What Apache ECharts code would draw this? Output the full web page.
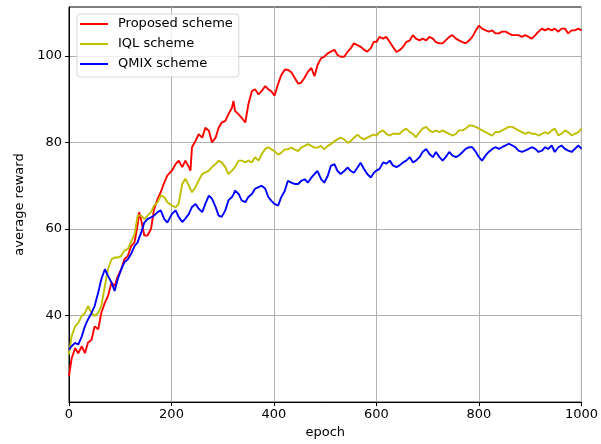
<!DOCTYPE html>
<html>
<head>
<meta charset="utf-8">
<script src="https://cdn.jsdelivr.net/npm/echarts@6/dist/echarts.min.js"></script>
<style>html,body{margin:0;padding:0;background:#fff}#c{width:601px;height:444px}</style>
</head>
<body>
<div id="c"></div>
<script>
const seriesNames = ['Proposed scheme', 'IQL scheme', 'QMIX scheme'];
const xTicks = [0, 200, 400, 600, 800, 1000];
const yTicks = [40, 60, 80, 100];
const epochs = [
  0,5,12,18,25,31,37,44,50,57,63,70,76,83,89,95,102,108,115,121,128,134,137,141,147,153,160,166,173,179,186,192,
  201,208,214,221,227,234,237,240,247,253,260,266,273,279,286,292,298,305,311,318,321,324,331,337,344,350,357,363,370,376,383,389,395,
  401,408,414,421,427,434,440,447,453,460,466,473,479,485,492,498,505,511,518,524,530,537,544,550,556,563,569,576,582,589,595,
  600,606,613,619,626,632,639,645,652,658,665,671,677,684,690,697,703,710,716,723,729,735,742,748,755,761,768,774,781,787,794,
  800,806,813,819,826,832,839,845,852,858,865,871,877,884,890,897,903,910,916,923,929,935,942,948,955,961,968,974,981,987,994,1000
];
const proposed = [
  26,30,32.5,31.3,32.9,31.3,33.7,34.4,37.5,36.8,40.6,43,44.5,47.6,46.8,49,50.7,53,53.8,56,57,61,63.9,62,58.5,58.5,60,64.6,67,68.5,70.8,72.4,
  73.5,75,75.8,74.3,75.8,74.3,73.5,78.9,80.4,81.9,81.1,83.4,82.7,80,81.1,83.4,84.6,85,86.5,88,89.6,87.3,86.5,85.7,84.6,88.8,91.9,92.3,91.1,91.9,93,92.3,91.8,
  90.8,93.5,95.5,96.8,96.8,96.2,95,93.6,93.8,95,96.3,97.2,95.3,97.9,99.5,99.8,100.6,101,101.4,100.2,99.8,99.8,101,101.8,102.9,102.5,102.1,101.4,101,101.8,103.3,
  103.2,104.4,104,104.4,103.2,102.1,100.9,101.3,102.1,103.2,103.6,104.8,104,103.6,104,103.6,104.4,104,103.2,102.9,102.9,103.6,104.4,104.8,104,103.6,103.2,102.9,103.6,104.4,105.9,
  107,106.3,105.9,105.6,105.9,105.2,105.2,105.6,105.6,105.2,104.8,104.8,104.8,104.4,104.8,104.4,104,104.8,105.6,106.3,105.9,106.3,105.9,106.3,105.6,106.3,106.3,105.2,105.9,105.9,106.3,105.9
];
const iql = [
  31,35.2,37.5,38.3,39.9,40.6,42.2,40.6,39.9,40.6,42.2,46.8,50.7,53,53.4,53.4,53.8,55,55.4,57,58.8,63.1,63.1,63.1,62.3,63.1,63.9,65.4,66.2,67.7,67.4,66.2,
  65.4,65,65.8,70.4,71.6,70,69.2,68.5,69.7,71.2,72.7,73.1,73.5,74.3,75,75.8,75.4,74.3,72.7,73.5,73.9,74.3,75.8,75.8,75.4,75.8,75.4,76.6,75.8,77.3,78.5,78.9,78.4,
  78,77.2,77.6,78.4,78.4,78.8,78.4,78,78.8,79.2,79.6,79.2,78.8,78.8,79.2,78.4,79.2,79.6,80.3,80.7,81.1,80.7,79.9,80.3,81.1,81.8,81.1,80.7,81.1,81.5,81.8,
  81.6,82.4,82.8,82,81.6,82,82,82,82.8,83.2,82.4,82,81.2,82.4,83.2,83.6,82.8,82.4,82.8,82.4,82.8,82.4,82,81.6,82,82.8,82.8,83.2,83.9,83.9,83.6,
  83.2,82.8,82.4,82,81.6,82.4,82.4,82.8,83.2,83.6,83.6,83.2,82.8,82.4,82,82.4,82,82,81.6,82,82.4,82,82.8,83.2,81.6,82,82.8,82.4,81.6,82,82.4,83.2
];
const qmix = [
  32.1,32.9,33.7,33.3,35.2,37.5,39.1,40.6,42.2,45.3,48.4,50.7,49.2,47.6,45.7,48.4,50.7,52.3,53,54.2,56.1,56.9,58,59.2,61.5,62.3,62.7,63.1,63.9,64.3,62.3,61.5,
  63.5,64.3,62.8,61.6,62.4,63.5,64.3,65.1,65.8,64.7,63.9,65.8,67.7,67,65.1,63.1,62.8,64.3,66.6,67.4,68,68.9,68.1,66.6,66.2,67.4,68.1,69.3,69.7,70,69.3,67.4,66.5,
  65.8,65.4,67.3,68.8,71.1,70.7,70.4,70.4,71.1,71.5,70.7,71.9,72.7,73.4,71.5,70.7,72.3,74.6,75,73.4,72.7,73.4,74.2,73.4,73,74.2,75.3,73.8,72.7,71.9,73,
  73.5,73.9,75.4,75.1,75.8,74.7,74.3,74.7,75.4,75.8,76.6,75.4,75.8,76.6,77.8,78.5,77.4,76.6,77.8,76.6,75.8,76.6,77.8,77,76.6,77,77.8,78.5,78.9,78.9,77.8,
  76.6,75.8,77,77.8,78.5,78.9,78.5,78.9,79.3,79.7,79.3,78.9,78.1,77.8,78.1,78.5,78.9,78.5,77.8,78.1,78.9,78.5,79.3,77.8,78.9,79.3,78.5,78.1,77.8,78.5,79.3,78.5
];
const colors = ['#ff0000', '#bfbf00', '#0000ff'];
const values = [proposed, iql, qmix];

const FONT = 'DejaVu Sans';
const chart = echarts.init(document.getElementById('c'), null, {renderer: 'canvas'});
chart.setOption({
  animation: false,
  backgroundColor: '#fff',
  grid: {left: 69, right: 15, top: 7, bottom: 41, show: true, borderColor: '#000', borderWidth: 1, backgroundColor: 'transparent'},
  legend: {
    data: seriesNames,
    icon: 'rect',
    orient: 'vertical',
    left: 77, top: 14,
    itemWidth: 28, itemHeight: 2, itemGap: 4,
    padding: [2, 6, 5, 3],
    borderColor: '#d6d6d6', borderWidth: 1, borderRadius: 3,
    backgroundColor: 'rgba(255,255,255,0.8)',
    textStyle: {fontFamily: FONT, fontSize: 13, color: '#000', padding: [0, 0, 0, 5], lineHeight: 16}
  },
  xAxis: {
    type: 'value', min: 0, max: 1000, interval: 200,
    name: 'epoch', nameLocation: 'middle', nameGap: 23,
    nameTextStyle: {fontFamily: FONT, fontSize: 13, color: '#000'},
    axisLine: {show: true, lineStyle: {color: '#000', width: 1}},
    axisTick: {show: true, inside: false, length: 4, lineStyle: {color: '#000'}},
    axisLabel: {fontFamily: FONT, fontSize: 13, color: '#000', margin: 6, formatter: v => String(v)},
    splitLine: {show: true, lineStyle: {color: '#b0b0b0', width: 1}}
  },
  yAxis: {
    type: 'value', min: 20, max: 111.3,
    name: 'average reward', nameLocation: 'middle', nameGap: 42, nameRotate: 90,
    nameTextStyle: {fontFamily: FONT, fontSize: 13, color: '#000'},
    axisLine: {show: true, lineStyle: {color: '#000', width: 1}},
    axisTick: {show: true, inside: false, length: 4, lineStyle: {color: '#000'}, customValues: yTicks},
    axisLabel: {fontFamily: FONT, fontSize: 13, color: '#000', margin: 7, customValues: yTicks},
    splitLine: {show: true, lineStyle: {color: '#b0b0b0', width: 1}}
  },
  series: seriesNames.map((n, i) => ({
    name: n, type: 'line', symbol: 'none', showSymbol: false,
    color: colors[i],
    lineStyle: {color: colors[i], width: 1.9},
    data: epochs.map((e, j) => [e, values[i][j]])
  }))
});
</script>
</body>
</html>
